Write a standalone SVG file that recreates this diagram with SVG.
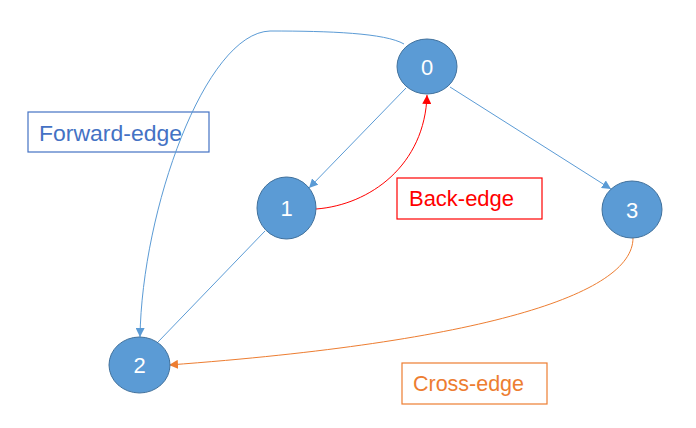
<svg xmlns="http://www.w3.org/2000/svg" width="696" height="428" viewBox="0 0 696 428">
<style>
.node ellipse{fill:#5B9BD5;stroke:#41719C;stroke-width:1}
.node text{fill:#fff;font-family:"Liberation Sans",Arial,sans-serif;font-size:22px;text-anchor:middle}
.e{fill:none;stroke-width:1}
.blue{stroke:#5B9BD5}
.red{stroke:#FF0000}
.orange{stroke:#ED7D31}
.lbl rect{fill:none;stroke-width:1.2}
.lbl text{font-family:"Liberation Sans",Arial,sans-serif;font-size:22px}
</style>
<defs>
<marker id="ab" viewBox="0 0 10 10" refX="10" refY="5" markerWidth="9" markerHeight="9" markerUnits="userSpaceOnUse" orient="auto"><path d="M0,0 L10,5 L0,10 z" fill="#5B9BD5"/></marker>
<marker id="ar" viewBox="0 0 10 10" refX="10" refY="5" markerWidth="9" markerHeight="9" markerUnits="userSpaceOnUse" orient="auto"><path d="M0,0 L10,5 L0,10 z" fill="#FF0000"/></marker>
<marker id="ao" viewBox="0 0 10 10" refX="10" refY="5" markerWidth="9" markerHeight="9" markerUnits="userSpaceOnUse" orient="auto"><path d="M0,0 L10,5 L0,10 z" fill="#ED7D31"/></marker>
</defs>
<rect width="696" height="428" fill="#fff"/>
<g id="label-forward" class="lbl"><rect x="28" y="112" width="181" height="40" stroke="#4472C4"/><text x="39" y="141" fill="#4472C4" textLength="143" lengthAdjust="spacingAndGlyphs">Forward-edge</text></g>
<g id="label-back" class="lbl"><rect x="397" y="178" width="145" height="41" stroke="#FF0000"/><text x="409" y="206" fill="#FF0000" textLength="105" lengthAdjust="spacingAndGlyphs">Back-edge</text></g>
<g id="label-cross" class="lbl"><rect x="402" y="363" width="145" height="41" stroke="#ED7D31"/><text x="413" y="391" fill="#ED7D31" textLength="111" lengthAdjust="spacingAndGlyphs">Cross-edge</text></g>
<g id="connectors">
<path class="e blue" d="M404,44 C385,33 330,31 270,31 C205,33 142,210 140,337" marker-end="url(#ab)"/>
<line class="e blue" x1="406" y1="88" x2="309" y2="188" marker-end="url(#ab)"/>
<line class="e blue" x1="450" y1="87" x2="611" y2="189" marker-end="url(#ab)"/>
<line class="e blue" x1="265" y1="231" x2="158" y2="342"/>
<path class="e red" d="M316,209 C370,205 425,165 427,95" marker-end="url(#ar)"/>
<path class="e orange" d="M633,238 C633,295 480,342 169,365" marker-end="url(#ao)"/>
</g>
<g id="node0" class="node"><ellipse cx="427" cy="66.5" rx="30" ry="27.5"/><text x="427" y="74.5">0</text></g>
<g id="node1" class="node"><ellipse cx="286.5" cy="208" rx="29.5" ry="31"/><text x="286.5" y="216">1</text></g>
<g id="node2" class="node"><ellipse cx="139.5" cy="365" rx="30.5" ry="28"/><text x="139.5" y="373">2</text></g>
<g id="node3" class="node"><ellipse cx="632" cy="209.5" rx="30" ry="28.5"/><text x="632" y="217.5">3</text></g>
</svg>
